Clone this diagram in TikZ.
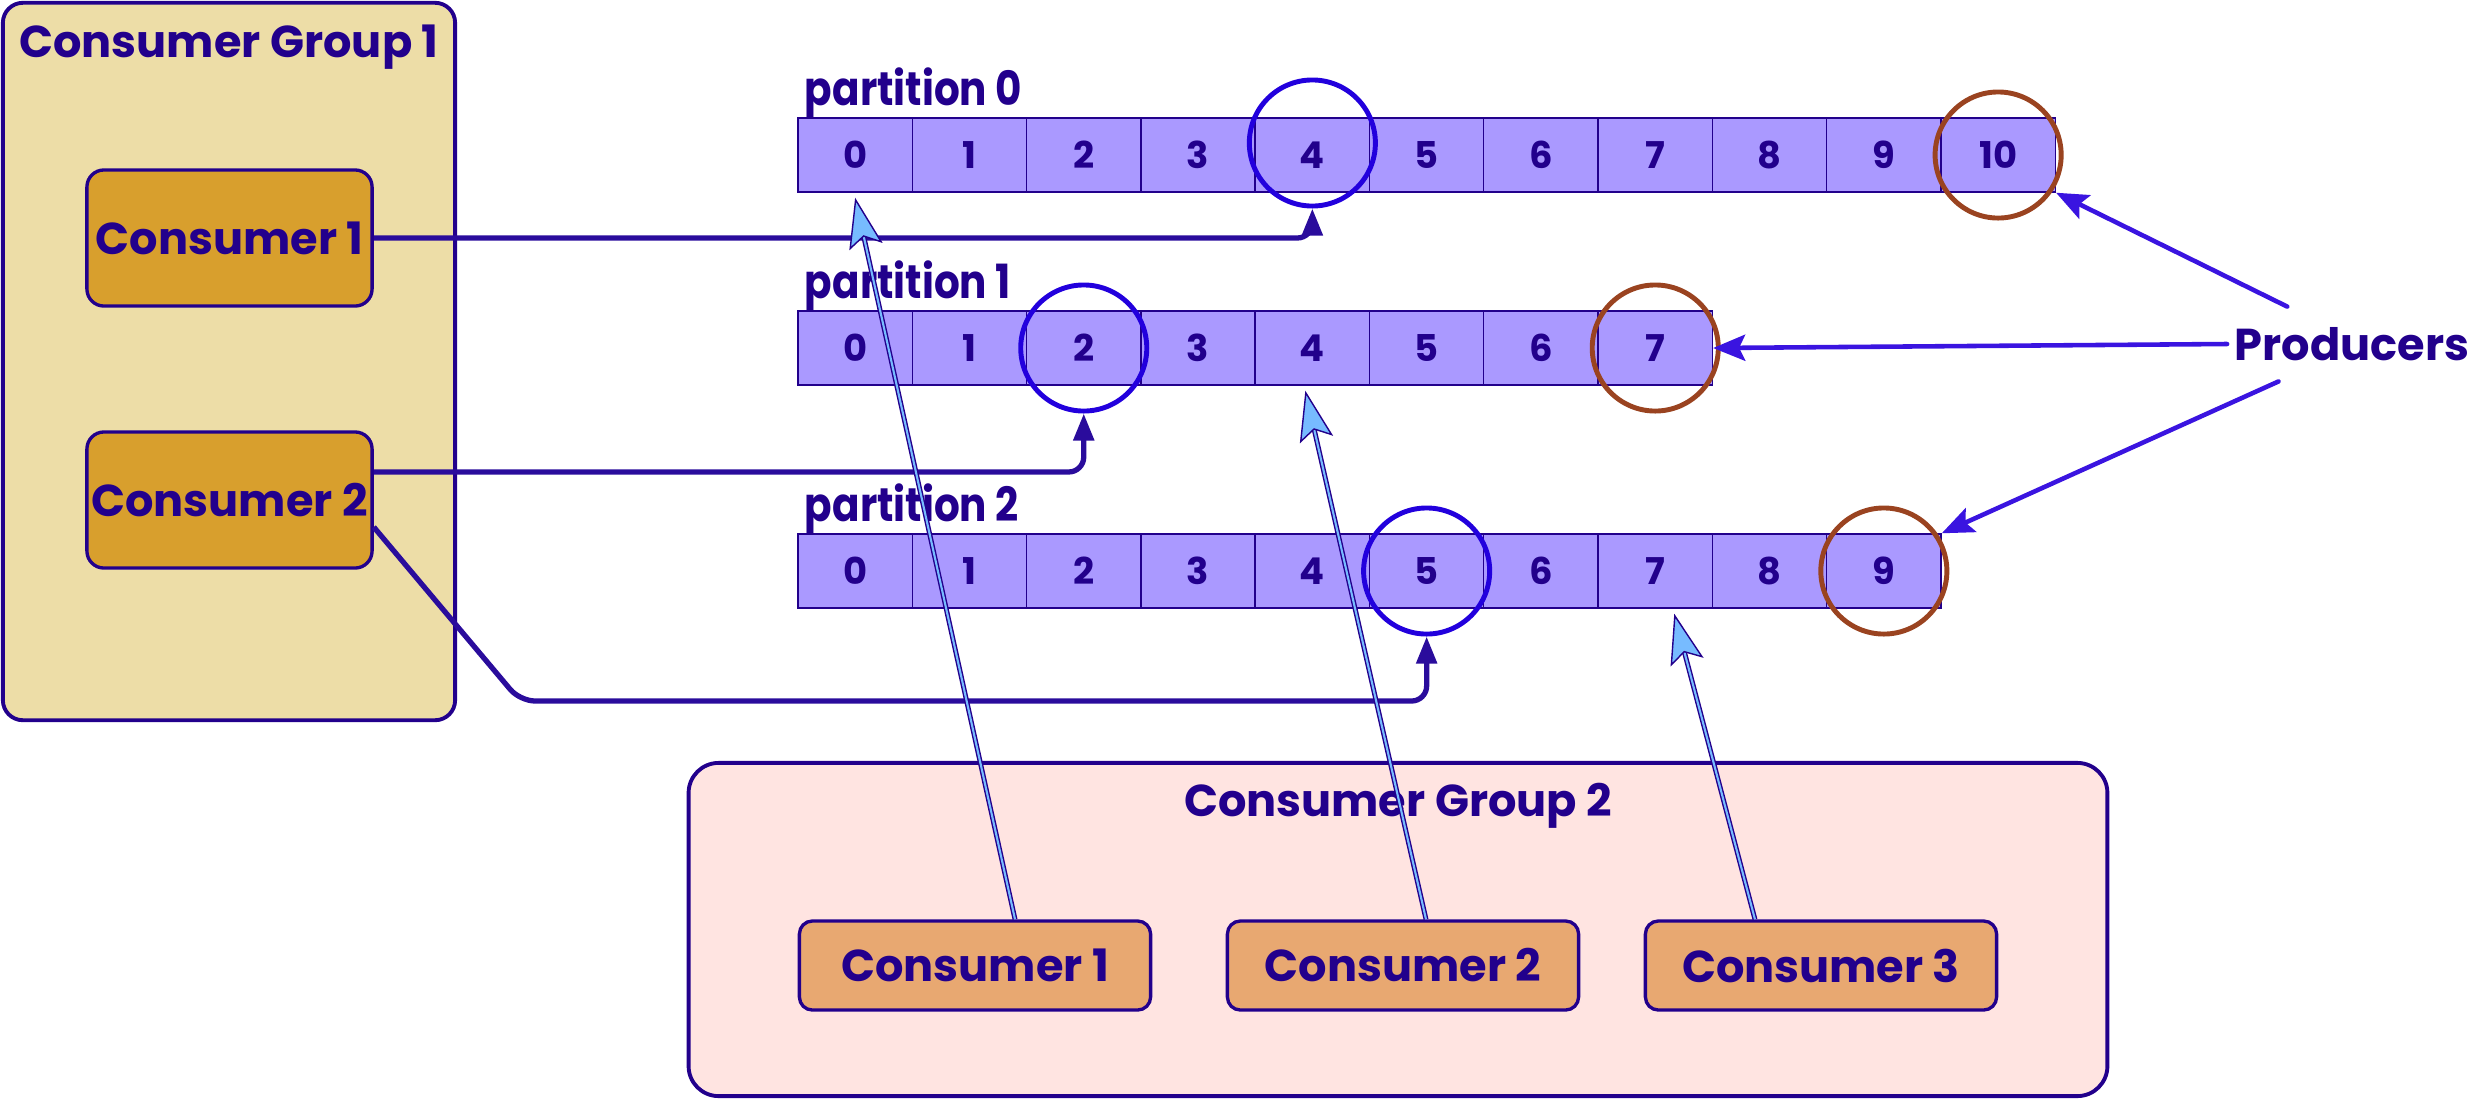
\documentclass[tikz,border=0pt]{standalone}
\usepackage{fontspec}
\setmainfont{Poppins}
\newfontfamily\narrowfamily{Poppins}[FakeStretch=0.86]
\usetikzlibrary{arrows.meta,positioning,calc}

\definecolor{ink}{HTML}{22008C}
\definecolor{grponefill}{HTML}{EDDDA7}
\definecolor{grptwofill}{HTML}{FFE4E1}
\definecolor{consonefill}{HTML}{D89F2D}
\definecolor{constwofill}{HTML}{E8A871}
\definecolor{cellfill}{HTML}{AA99FF}
\definecolor{ringblue}{HTML}{2200DD}
\definecolor{ringbrown}{HTML}{9A4320}
\definecolor{prodblue}{HTML}{3A14E0}
\definecolor{readline}{HTML}{2A0C9C}
\definecolor{skyfill}{HTML}{77BBFF}

\newcommand{\bigfont}{\fontsize{12.7pt}{15pt}\selectfont\bfseries}
\newcommand{\labfont}{\narrowfamily\fontsize{13.4pt}{15pt}\selectfont\bfseries}
\newcommand{\cellfont}{\fontsize{10.5pt}{12pt}\selectfont\bfseries}

\tikzset{
  grp/.style={draw=ink, line width=1.1pt, rounded corners=0.2cm, inner sep=0pt},
  title/.style={text=ink, font=\bigfont, inner sep=0pt},
  plabel/.style={text=ink, font=\labfont, inner sep=0pt},
  consone/.style={draw=ink, line width=0.95pt, rounded corners=0.17cm, fill=consonefill,
    minimum width=2.85cm, minimum height=1.36cm, text=ink, font=\bigfont, inner sep=0pt},
  constwo/.style={consone, rounded corners=0.13cm, fill=constwofill,
    minimum width=3.51cm, minimum height=0.89cm},
  cell/.style={draw=ink, line width=0.4pt, fill=cellfill, minimum width=1.143cm,
    minimum height=0.74cm, inner sep=0pt, text=ink, font=\cellfont},
  ring/.style={circle, minimum size=1.26cm, line width=1.4pt, inner sep=0pt},
  prodtext/.style={text=ink, font=\bigfont, inner xsep=0.07cm, inner ysep=0.2cm},
  readarrow/.style={draw=readline, line width=1.5pt, rounded corners=0.15cm,
    -{Triangle[length=0.27cm, width=0.2cm]}},
  prodarrow/.style={draw=prodblue, line width=1.3pt, line cap=round,
    -{Stealth[length=0.32cm, width=0.26cm, inset=0.06cm]}},
  grabarrow/.style={draw=ink, line width=0.4pt, double=skyfill, double distance=0.6pt,
    -{Stealth[length=0.5cm, width=0.34cm, inset=0.1cm, fill=skyfill]}}
}

\begin{document}
\begin{tikzpicture}[x=0.01cm,y=-0.01cm]
\useasboundingbox (0,0) rectangle (2474,1099);

% consumer group 1
\node[grp, fill=grponefill, minimum width=4.52cm, minimum height=7.17cm] (cg1) at (229,361.5) {};
\node[title, anchor=base] (cg1t) at (229,57) {Consumer Group 1};
\node[consone] (c11) at (229.5,238) {Consumer 1};
\node[consone] (c12) at (229.5,500) {Consumer 2};

% consumer group 2
\node[grp, rounded corners=0.3cm, fill=grptwofill, minimum width=14.18cm, minimum height=3.33cm] (cg2) at (1398,929.5) {};
\node[title, anchor=base] (cg2t) at (1398,816) {Consumer Group 2};
\node[constwo] (c21) at (975,965.5) {Consumer 1};
\node[constwo] (c22) at (1403,965.5) {Consumer 2};
\node[constwo] (c23) at (1821,965.5) {Consumer 3};

% partitions
\foreach \n/\y/\last in {0/155/10,1/348/7,2/571/9}{
  \foreach \i in {0,...,\last}
    \node[cell] (p\n-\i) at ({855.15+114.3*\i},\y) {\i};
  \node[plabel, anchor=base west, xshift=0.07cm, yshift=0.12cm] (lab\n) at (p\n-0.north west) {partition \n};
}

% offsets
\node[ring, draw=ringblue, yshift=0.12cm] (off0) at (p0-4) {};
\node[ring, draw=ringbrown] (end0) at (p0-10) {};
\node[ring, draw=ringblue] (off1) at (p1-2) {};
\node[ring, draw=ringbrown] (end1) at (p1-7) {};
\node[ring, draw=ringblue] (off2) at (p2-5) {};
\node[ring, draw=ringbrown] (end2) at (p2-9) {};

% producers
\node[prodtext] (prod) at (2352,344) {Producers};
\draw[prodarrow] (prod.150) -- (p0-10.south east);
\draw[prodarrow] (prod.west) -- (p1-7.east);
\draw[prodarrow] (prod.207) -- (p2-9.north east);

% group 1 reads
\draw[readarrow] (c11.east) -| (off0.south);
\draw[readarrow] ([yshift=0.28cm]c12.east) -| (off1.south);
\draw[readarrow] ([yshift=-0.27cm]c12.east) -- (520,701) -| (off2.south);

% group 2 reads
\draw[grabarrow] ([xshift=0.4cm]c21.north) -- ([yshift=-0.05cm]p0-0.south);
\draw[grabarrow] ([xshift=0.23cm]c22.north) -- ([xshift=-0.07cm,yshift=-0.05cm]p1-4.south);
\draw[grabarrow] ([xshift=-0.66cm]c23.north) -- ([xshift=0.19cm,yshift=-0.05cm]p2-7.south);

\end{tikzpicture}
\end{document}
